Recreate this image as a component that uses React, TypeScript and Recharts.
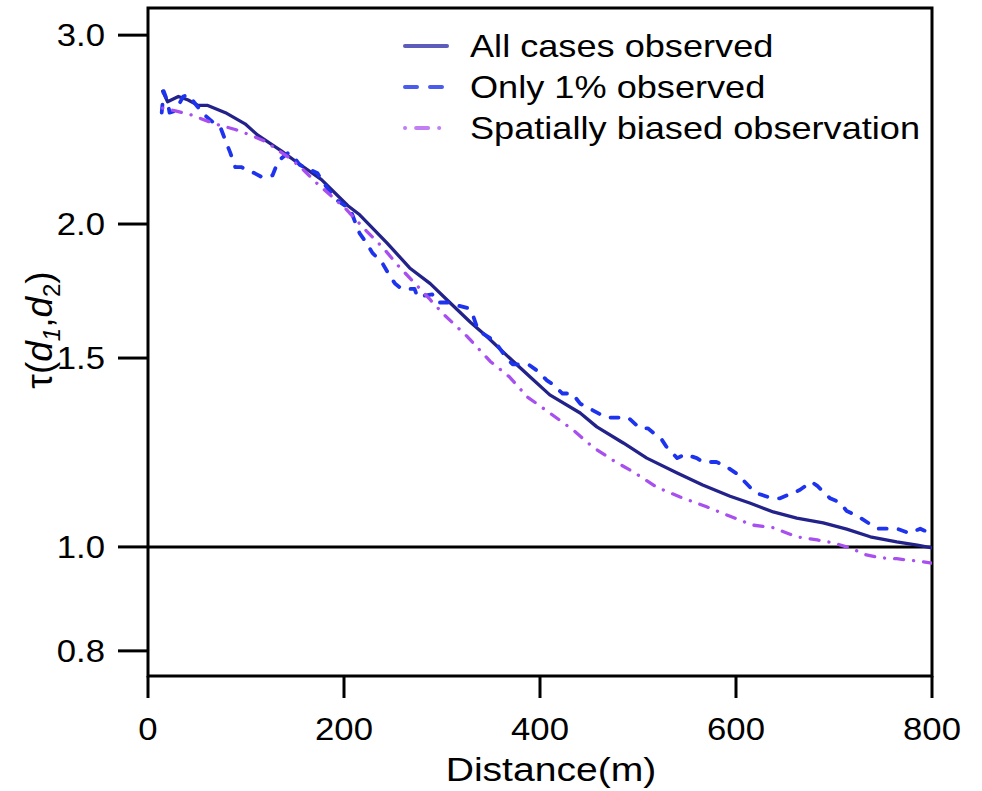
import { LineChart, Line, XAxis, YAxis, ReferenceLine, ReferenceArea, Label } from "recharts";

// x axis: distance (m), y axis: tau on a log scale
const distTicks = [0, 200, 400, 600, 800];
const tauTicks = [0.8, 1.0, 1.5, 2.0, 3.0];
const seriesNames = ["All cases observed", "Only 1% observed", "Spatially biased observation"];

const allDist = [15, 20, 31, 41, 51, 61, 79, 99, 112, 136, 153, 177, 204, 216, 244, 267, 288, 305, 329, 346, 369, 390, 410, 441, 458, 485, 509, 540, 566, 594, 614, 638, 662, 689, 713, 737, 764, 785, 800];
const allTau = [2.66, 2.6, 2.63, 2.61, 2.58, 2.58, 2.54, 2.48, 2.42, 2.34, 2.28, 2.2, 2.08, 2.04, 1.92, 1.82, 1.76, 1.7, 1.62, 1.57, 1.5, 1.44, 1.386, 1.333, 1.294, 1.25, 1.21, 1.172, 1.142, 1.115, 1.099, 1.078, 1.064, 1.053, 1.039, 1.022, 1.011, 1.004, 0.998];

const onePctDist = [14, 16, 20, 22, 28, 36, 41, 51, 55, 66, 74, 80, 84, 89, 95, 109, 117, 127, 133, 143, 147, 155, 160, 173, 177, 186, 191, 201, 206, 213, 216, 223, 229, 239, 245, 252, 259, 272, 275, 290, 295, 308, 315, 326, 331, 337, 342, 352, 357, 366, 372, 388, 397, 407, 412, 423, 433, 441, 448, 461, 468, 480, 490, 502, 510, 524, 529, 540, 548, 560, 566, 580, 589, 601, 607, 617, 624, 637, 645, 655, 665, 677, 683, 696, 706, 713, 723, 737, 744, 757, 764, 777, 788, 798];
const onePctTau = [2.54, 2.66, 2.6, 2.54, 2.55, 2.63, 2.64, 2.57, 2.54, 2.49, 2.46, 2.38, 2.33, 2.26, 2.26, 2.23, 2.21, 2.22, 2.29, 2.33, 2.32, 2.27, 2.26, 2.23, 2.2, 2.14, 2.11, 2.08, 2.07, 1.99, 1.96, 1.92, 1.88, 1.84, 1.8, 1.76, 1.74, 1.74, 1.71, 1.72, 1.69, 1.69, 1.68, 1.67, 1.65, 1.59, 1.58, 1.56, 1.54, 1.5, 1.48, 1.48, 1.46, 1.43, 1.42, 1.39, 1.39, 1.36, 1.35, 1.33, 1.32, 1.32, 1.32, 1.29, 1.29, 1.26, 1.24, 1.21, 1.22, 1.21, 1.2, 1.2, 1.19, 1.17, 1.155, 1.13, 1.12, 1.11, 1.11, 1.12, 1.13, 1.15, 1.14, 1.11, 1.1, 1.08, 1.07, 1.05, 1.04, 1.04, 1.04, 1.03, 1.04, 1.03];

const biasDist = [15, 28, 43, 68, 89, 105, 119, 146, 160, 173, 201, 223, 240, 255, 270, 288, 301, 326, 349, 369, 387, 410, 434, 454, 474, 495, 519, 543, 570, 594, 617, 638, 662, 683, 699, 716, 733, 747, 764, 785, 800];
const biasTau = [2.565, 2.55, 2.53, 2.48, 2.45, 2.42, 2.39, 2.3, 2.24, 2.18, 2.07, 1.97, 1.9, 1.83, 1.77, 1.7, 1.65, 1.57, 1.49, 1.44, 1.38, 1.333, 1.285, 1.239, 1.205, 1.175, 1.137, 1.113, 1.09, 1.068, 1.048, 1.042, 1.022, 1.015, 1.009, 0.998, 0.983, 0.977, 0.975, 0.97, 0.966];

const toPoints = (dist: number[], tau: number[]) => dist.map((d, i) => ({ d, tau: tau[i] }));

const FONT = "'Liberation Sans', Arial, Helvetica, sans-serif";

const styles = [
  { stroke: "#23228a", plotDash: undefined, legendStroke: "#5c5cbb", legendDash: undefined, width: 3.3 },
  { stroke: "#1d33ee", plotDash: "8 12", legendStroke: "#4a5ceb", legendDash: "12 13", width: 3.8 },
  { stroke: "#a84ff0", plotDash: "0.1 10 9 10", legendStroke: "#c27ff4", legendDash: "0.1 11 12 11", width: 3.3 },
];

const XTick = ({ x, payload }: any) => (
  <text transform={`translate(${x},740) scale(1.12,1)`} textAnchor="middle" fontSize={31} fontFamily={FONT} fill="#000">
    {payload.value}
  </text>
);

const YTick = ({ y, payload }: any) => (
  <text transform={`translate(105,${y + 11}) scale(1.12,1)`} textAnchor="end" fontSize={31} fontFamily={FONT} fill="#000">
    {Number(payload.value).toFixed(1)}
  </text>
);

const XTitle = () => (
  <text transform="translate(551,781) scale(1.15,1)" textAnchor="middle" fontSize={34} fontFamily={FONT} fill="#000">
    Distance(m)
  </text>
);

const YTitle = () => (
  <text transform="translate(52,330) rotate(-90)" textAnchor="middle" fontSize={37} fontFamily={FONT} fill="#000">
    τ(<tspan fontStyle="italic">d</tspan>
    <tspan fontSize={24} dy={8} fontStyle="italic">1</tspan>
    <tspan dy={-8}>,</tspan>
    <tspan fontStyle="italic">d</tspan>
    <tspan fontSize={24} dy={8}>2</tspan>
    <tspan dy={-8}>)</tspan>
  </text>
);

const legendRows = [46, 87, 128];

export default function App() {
  const series = [toPoints(allDist, allTau), toPoints(onePctDist, onePctTau), toPoints(biasDist, biasTau)];
  return (
    <div style={{ position: "absolute", left: 0, top: 0, width: 982, height: 791, background: "#fff" }}>
      <LineChart width={982} height={791} margin={{ top: 8, right: 50, bottom: 0, left: 0 }}>
        <XAxis
          dataKey="d"
          type="number"
          domain={[0, 800]}
          ticks={distTicks}
          allowDataOverflow
          height={115}
          axisLine={false}
          tickSize={22}
          tickLine={{ stroke: "#000", strokeWidth: 3 }}
          tick={(p: any) => <XTick {...p} />}
        >
          <Label content={() => <XTitle />} />
        </XAxis>
        <YAxis
          type="number"
          scale="log"
          domain={[0.758, 3.18]}
          ticks={tauTicks}
          allowDataOverflow
          width={148}
          axisLine={false}
          tickSize={30}
          tickLine={{ stroke: "#000", strokeWidth: 3 }}
          tick={(p: any) => <YTick {...p} />}
        >
          <Label content={() => <YTitle />} />
        </YAxis>
        <ReferenceLine y={1} stroke="#000" strokeWidth={3} />
        {series.map((pts, i) => (
          <Line
            key={seriesNames[i]}
            data={pts}
            dataKey="tau"
            type="linear"
            stroke={styles[i].stroke}
            strokeWidth={styles[i].width}
            strokeDasharray={styles[i].plotDash}
            strokeLinecap="round"
            strokeLinejoin="round"
            dot={false}
            activeDot={false}
            isAnimationActive={false}
          />
        ))}
        <ReferenceArea x1={0} x2={800} y1={0.758} y2={3.18} fill="none" fillOpacity={0} stroke="#000" strokeWidth={3} ifOverflow="visible" />
      </LineChart>
      <svg width={982} height={791} style={{ position: "absolute", left: 0, top: 0, pointerEvents: "none" }}>
        {seriesNames.map((name, i) => (
          <g key={name}>
            <line
              x1={405}
              x2={447}
              y1={legendRows[i]}
              y2={legendRows[i]}
              stroke={styles[i].legendStroke}
              strokeWidth={4}
              strokeDasharray={styles[i].legendDash}
              strokeLinecap="round"
            />
            <text transform={`translate(470,${legendRows[i] + 11}) scale(1.13,1)`} fontSize={32} fontFamily={FONT} fill="#000">
              {name}
            </text>
          </g>
        ))}
      </svg>
    </div>
  );
}
